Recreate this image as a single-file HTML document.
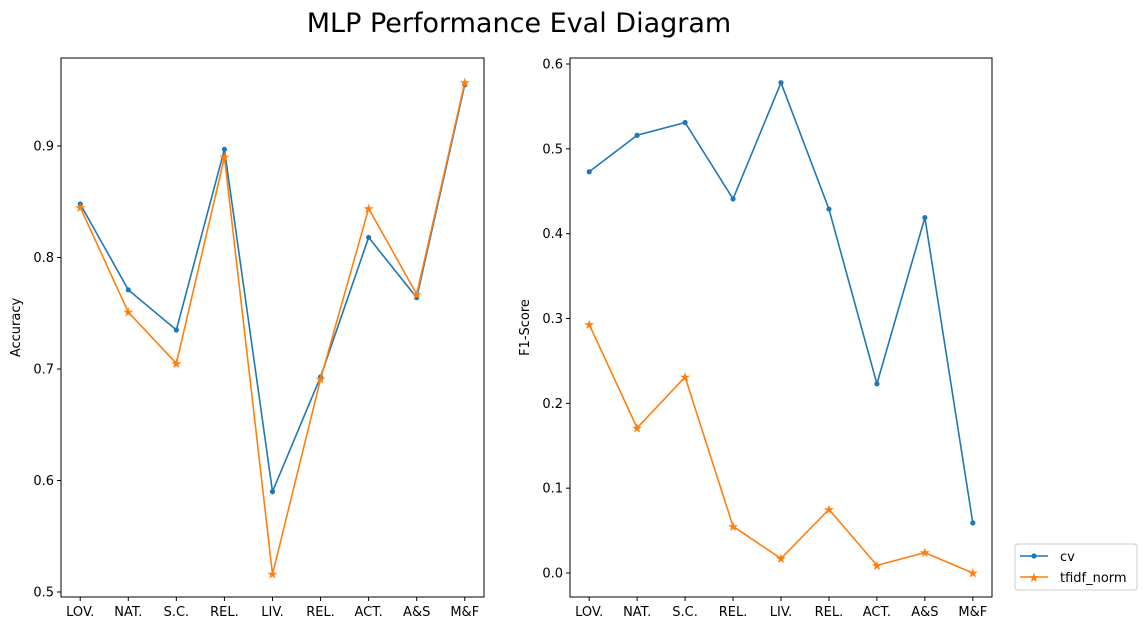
<!DOCTYPE html>
<html><head><meta charset="utf-8"><style>
body{margin:0;background:#fff;}
svg text{font-family:"DejaVu Sans","Liberation Sans",sans-serif;fill:#000;}
</style></head><body>
<svg width="1146" height="631" xmlns="http://www.w3.org/2000/svg">
<text x="519" y="32" font-size="27" text-anchor="middle">MLP Performance Eval Diagram</text>
<g id="left"></g>
<g id="right"></g>
<g>
<rect x="1015" y="544" width="122" height="46" rx="3" fill="#fff" stroke="#ccc"/>
<g>
<line x1="1020" y1="556" x2="1048" y2="556" stroke="#1f77b4" stroke-width="1.6"/>
<circle cx="1034" cy="556" r="2.6" fill="#1f77b4"/>
<text x="1060" y="561" font-size="13">cv</text></g>
<g>
<line x1="1020" y1="577" x2="1048" y2="577" stroke="#ff7f0e" stroke-width="1.6"/>
<text x="1034" y="582" font-size="13" style="fill:#ff7f0e" text-anchor="middle">★</text>
<text x="1060" y="582" font-size="13">tfidf_norm</text></g>
</g>
</svg>
<script>
const categories=["LOV.","NAT.","S.C.","REL.","LIV.","REL.","ACT.","A&S","M&F"];
const accCv=[0.848,0.771,0.735,0.897,0.590,0.693,0.818,0.764,0.955];
const accTfidf=[0.845,0.751,0.705,0.890,0.516,0.691,0.844,0.767,0.957];
const f1Cv=[0.473,0.516,0.531,0.441,0.578,0.429,0.223,0.419,0.059];
const f1Tfidf=[0.293,0.171,0.231,0.055,0.017,0.075,0.009,0.024,0.000];
const accTicks=[0.5,0.6,0.7,0.8,0.9];
const f1Ticks=[0.0,0.1,0.2,0.3,0.4,0.5,0.6];
const NS="http://www.w3.org/2000/svg";
function mk(p,tag,a,txt){const e=document.createElementNS(NS,tag);for(const k in a)e.setAttribute(k,a[k]);if(txt!==undefined)e.textContent=txt;p.appendChild(e);return e;}
function chart(g,L,R,T,B,yv0,yp0,yv1,yp1,ticks,label,s1,s2,nm,yoff){
  const n=categories.length,sc=(R-L)/(n-1+0.8);
  const xf=i=>L+(i+0.4)*sc;
  const yf=v=>yp0+(v-yv0)*(yp1-yp0)/(yv1-yv0);
  ticks.forEach(t=>{const y=yf(t);
    const tl=mk(g,'line',{x1:L-4,x2:L,y1:y,y2:y,stroke:'#000'});
    
    
    const tx=mk(g,'text',{x:L-7,y:y+4.5,'font-size':13,'text-anchor':'end'},t.toFixed(1));
    
    });
  categories.forEach((c,i)=>{const x=xf(i);
    const tl=mk(g,'line',{x1:x,x2:x,y1:B,y2:B+4,stroke:'#000'});
    
    
    const tx=mk(g,'text',{x:x,y:B+19,'font-size':13,'text-anchor':'middle'},c);
    
    });
  const yl=mk(g,'text',{x:0,y:0,'font-size':13,'text-anchor':'middle',transform:`translate(${L-yoff},${(T+B)/2}) rotate(-90)`},label);
  
  
  const l1=mk(g,'polyline',{points:s1.map((v,i)=>xf(i)+','+yf(v)).join(' '),fill:'none',stroke:'#1f77b4','stroke-width':1.6});
  
  
  s1.forEach((v,i)=>{const c=mk(g,'circle',{cx:xf(i),cy:yf(v),r:2.6,fill:'#1f77b4'});
    
    });
  const l2=mk(g,'polyline',{points:s2.map((v,i)=>xf(i)+','+yf(v)).join(' '),fill:'none',stroke:'#ff7f0e','stroke-width':1.6});
  
  
  s2.forEach((v,i)=>{const c=mk(g,'text',{x:xf(i),y:yf(v)+4.5,'font-size':13,'text-anchor':'middle',style:'fill:#ff7f0e'},'★');
    
    });
  const fr=mk(g,'rect',{x:L,y:T,width:R-L,height:B-T,fill:'none',stroke:'#000','stroke-width':1});
  
  
}
chart(document.getElementById('left'),61,484,58,597,0.9,146,0.8,257.5,accTicks,'Accuracy',accCv,accTfidf,'accuracy',41);
chart(document.getElementById('right'),570,992,58,597,0.0,573,0.6,64,f1Ticks,'F1-Score',f1Cv,f1Tfidf,'f1',41);
</script>
</body></html>
